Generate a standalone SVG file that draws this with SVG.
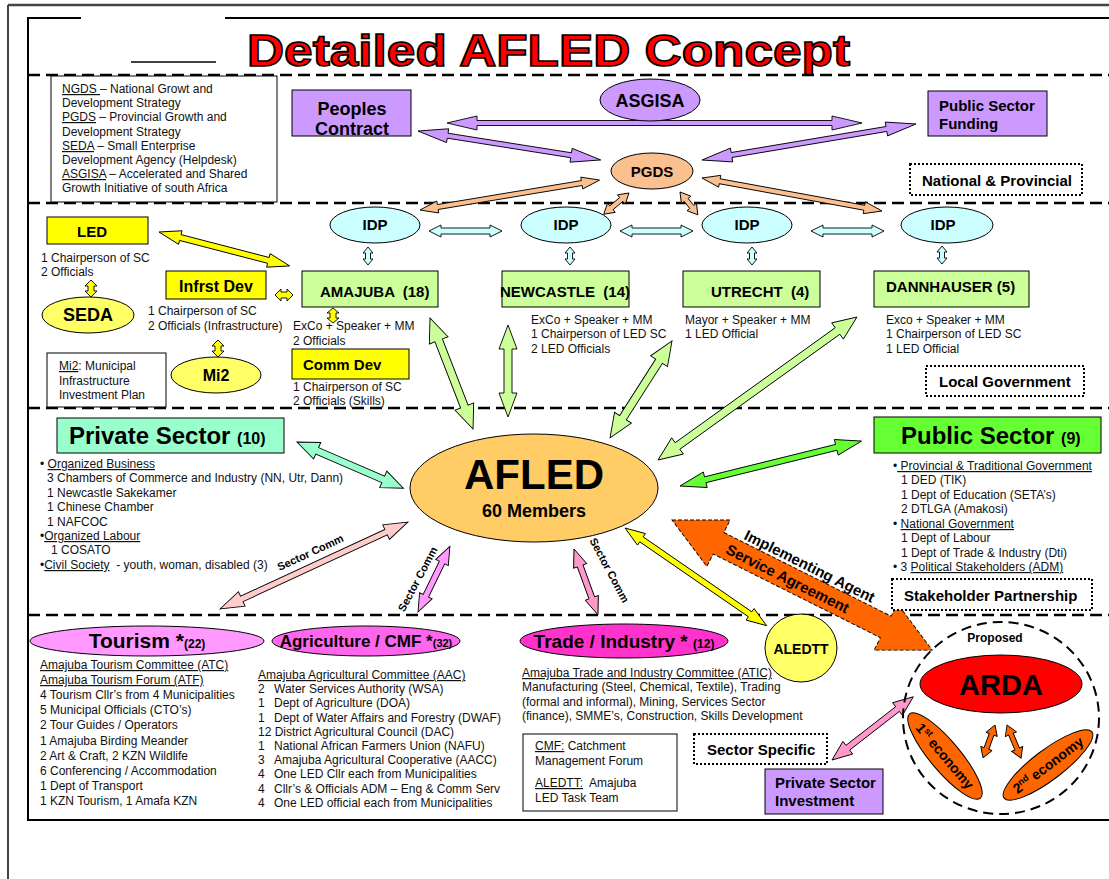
<svg xmlns="http://www.w3.org/2000/svg" width="1109" height="879" viewBox="0 0 1109 879">
<style>
text{font-family:"Liberation Sans",Arial,Helvetica,sans-serif}
.t{font-size:12px;fill:#111}
.b{font-weight:bold;fill:#000}
.u{text-decoration:underline}
.ol{stroke:#000;stroke-width:1}
.sec{fill:none;stroke:#000;stroke-width:2.5;stroke-dasharray:12 6}
.dot{fill:#fff;stroke:#000;stroke-width:2;stroke-dasharray:2 2}
.lav{fill:#cc99ff}
.pch{fill:#fac08f}
.cyn{fill:#ccffff}
.lgr{fill:#ccff99}
.yel{fill:#ffff00}
.pyl{fill:#ffff66}
.arr path{stroke:#000;stroke-width:0.9;stroke-linejoin:miter}
</style>

<!-- page frame -->
<line x1="8" y1="5" x2="1109" y2="5" stroke="#444" stroke-width="2.5"/>
<line x1="8" y1="5" x2="8" y2="879" stroke="#444" stroke-width="2"/>
<polyline points="81,18 28,18 28,820 1109,820" fill="none" stroke="#000" stroke-width="2"/>
<line x1="225" y1="18" x2="1109" y2="18" stroke="#000" stroke-width="2"/>
<line x1="131" y1="62" x2="216" y2="62" stroke="#000" stroke-width="1.5"/>

<!-- title -->
<text x="247" y="66" font-size="44" font-weight="bold" fill="#ff0000" stroke="#000" stroke-width="1.6" textLength="603" lengthAdjust="spacingAndGlyphs">Detailed AFLED Concept</text>

<!-- band separators -->
<line class="sec" x1="28" y1="75" x2="1109" y2="75"/>
<line class="sec" x1="28" y1="203" x2="1109" y2="203"/>
<line class="sec" x1="28" y1="408" x2="1109" y2="408"/>
<line class="sec" x1="28" y1="615" x2="1109" y2="615"/>

<!-- connectors -->
<g id="connectors" class="arr">
  <!-- national / provincial -->
  <path class="lav" transform="translate(447 123)" d="M0,0 L30,-7 L30,-2.5 L385,-2.5 L385,-7 L415,0 L385,7 L385,2.5 L30,2.5 L30,7 Z"/>
  <path class="lav" transform="translate(418 131) rotate(9)" d="M0,0 L30,-7 L30,-2.5 L155,-2.5 L155,-7 L185,0 L155,7 L155,2.5 L30,2.5 L30,7 Z"/>
  <path class="lav" transform="translate(702 160) rotate(-9.55)" d="M0,0 L30,-7 L30,-2.5 L187,-2.5 L187,-7 L217,0 L187,7 L187,2.5 L30,2.5 L30,7 Z"/>
  <path class="pch" transform="translate(420 210) rotate(-9.46)" d="M0,0 L18,-6 L18,-2.5 L164,-2.5 L164,-6 L182,0 L164,6 L164,2.5 L18,2.5 L18,6 Z"/>
  <path class="pch" transform="translate(629 193) rotate(140)" d="M0,0 L10,-6 L10,-2.5 L23,-2.5 L23,-6 L33,0 L23,6 L23,2.5 L10,2.5 L10,6 Z"/>
  <path class="pch" transform="translate(680 192) rotate(52)" d="M0,0 L10,-6 L10,-2.5 L19,-2.5 L19,-6 L29,0 L19,6 L19,2.5 L10,2.5 L10,6 Z"/>
  <path class="pch" transform="translate(702 178) rotate(10.39)" d="M0,0 L18,-6 L18,-2.5 L165,-2.5 L165,-6 L183,0 L165,6 L165,2.5 L18,2.5 L18,6 Z"/>
  <!-- IDP links -->
  <path class="cyn" transform="translate(429 231)" d="M0,0 L12,-6 L12,-3 L61,-3 L61,-6 L73,0 L61,6 L61,3 L12,3 L12,6 Z"/>
  <path class="cyn" transform="translate(620 231)" d="M0,0 L12,-6 L12,-3 L61,-3 L61,-6 L73,0 L61,6 L61,3 L12,3 L12,6 Z"/>
  <path class="cyn" transform="translate(811 231)" d="M0,0 L12,-6 L12,-3 L61,-3 L61,-6 L73,0 L61,6 L61,3 L12,3 L12,6 Z"/>
  <path class="cyn" transform="translate(368 247) rotate(90)" d="M0,0 L6,-5 L6,-2.5 L12,-2.5 L12,-5 L18,0 L12,5 L12,2.5 L6,2.5 L6,5 Z"/>
  <path class="cyn" transform="translate(570 247) rotate(90)" d="M0,0 L6,-5 L6,-2.5 L12,-2.5 L12,-5 L18,0 L12,5 L12,2.5 L6,2.5 L6,5 Z"/>
  <path class="cyn" transform="translate(752 247) rotate(90)" d="M0,0 L6,-5 L6,-2.5 L12,-2.5 L12,-5 L18,0 L12,5 L12,2.5 L6,2.5 L6,5 Z"/>
  <path class="cyn" transform="translate(942 246) rotate(90)" d="M0,0 L6,-5 L6,-2.5 L12,-2.5 L12,-5 L18,0 L12,5 L12,2.5 L6,2.5 L6,5 Z"/>
  <!-- Amajuba committees -->
  <path class="yel" transform="translate(159 232) rotate(14.55)" d="M0,0 L22,-7 L22,-3 L113,-3 L113,-7 L135,0 L113,7 L113,3 L22,3 L22,7 Z"/>
  <path class="yel" transform="translate(91 280) rotate(90)" d="M0,0 L6,-6 L6,-3 L11,-3 L11,-6 L17,0 L11,6 L11,3 L6,3 L6,6 Z"/>
  <path class="yel" transform="translate(275 295)" d="M0,0 L6,-6 L6,-3 L12,-3 L12,-6 L18,0 L12,6 L12,3 L6,3 L6,6 Z"/>
  <path class="yel" transform="translate(218 340) rotate(90)" d="M0,0 L6,-6 L6,-3 L11,-3 L11,-6 L17,0 L11,6 L11,3 L6,3 L6,6 Z"/>
  <path class="yel" transform="translate(333 308) rotate(90)" d="M0,0 L5,-6 L5,-3 L10,-3 L10,-6 L15,0 L10,6 L10,3 L5,3 L5,6 Z"/>
  <!-- municipalities to AFLED -->
  <path class="lgr" transform="translate(430 318) rotate(68.8)" d="M0,0 L24,-10 L24,-4 L95,-4 L95,-10 L119,0 L95,10 L95,4 L24,4 L24,10 Z"/>
  <path class="lgr" transform="translate(508 325) rotate(90)" d="M0,0 L24,-9 L24,-4 L68,-4 L68,-9 L92,0 L68,9 L68,4 L24,4 L24,9 Z"/>
  <path class="lgr" transform="translate(672 341) rotate(122.6)" d="M0,0 L24,-10 L24,-4 L91,-4 L91,-10 L115,0 L91,10 L91,4 L24,4 L24,10 Z"/>
  <path class="lgr" transform="translate(857 317) rotate(144.3)" d="M0,0 L24,-10 L24,-4 L221,-4 L221,-10 L245,0 L221,10 L221,4 L24,4 L24,10 Z"/>
  <!-- sectors to AFLED -->
  <path fill="#66ff33" transform="translate(680 486) rotate(-13.9)" d="M0,0 L26,-8 L26,-3 L161,-3 L161,-8 L187,0 L161,8 L161,3 L26,3 L26,8 Z"/>
  <path fill="#99ffcc" transform="translate(297 442) rotate(23.46)" d="M0,0 L22,-9 L22,-3.5 L94,-3.5 L94,-9 L116,0 L94,9 L94,3.5 L22,3.5 L22,9 Z"/>
  <path fill="#ffcccc" transform="translate(220 609) rotate(-24.83)" d="M0,0 L24,-8 L24,-3 L183,-3 L183,-8 L207,0 L183,8 L183,3 L24,3 L24,8 Z"/>
  <path fill="#ff99ff" transform="translate(418 612) rotate(-64.1)" d="M0,0 L18,-7 L18,-3 L55,-3 L55,-7 L73,0 L55,7 L55,3 L18,3 L18,7 Z"/>
  <path fill="#ff99cc" transform="translate(574 549) rotate(70)" d="M0,0 L18,-7 L18,-3 L52,-3 L52,-7 L70,0 L52,7 L52,3 L18,3 L18,7 Z"/>
  <path class="yel" transform="translate(625 528) rotate(34.6)" d="M0,0 L20,-7 L20,-3 L152,-3 L152,-7 L172,0 L152,7 L152,3 L20,3 L20,7 Z"/>
  <path fill="#ff99cc" transform="translate(832 760) rotate(-37.87)" d="M0,0 L20,-8 L20,-3 L83,-3 L83,-8 L103,0 L83,8 L83,3 L20,3 L20,8 Z"/>
  <!-- economy links -->
  <path fill="#ff6600" transform="translate(995 725) rotate(110)" d="M0,0 L10,-6 L10,-2.5 L25,-2.5 L25,-6 L35,0 L25,6 L25,2.5 L10,2.5 L10,6 Z"/>
  <path fill="#ff6600" transform="translate(1007 725) rotate(67)" d="M0,0 L10,-6 L10,-2.5 L26,-2.5 L26,-6 L36,0 L26,6 L26,2.5 L10,2.5 L10,6 Z"/>
  <!-- ARDA service agreement -->
  <g transform="translate(672 520) rotate(26.57)">
    <path fill="#ff6600" stroke-dasharray="4 2" d="M0,0 L52,-26 L52,-12 L239,-12 L239,-26 L291,0 L239,26 L239,12 L52,12 L52,26 Z"/>
    <text x="72" y="-15" font-size="15" class="b">Implementing Agent</text>
    <text x="62" y="6" font-size="15" class="b">Service Agreement</text>
  </g>
  <text class="b" font-size="11" transform="translate(312 556) rotate(-24.8)" text-anchor="middle">Sector Comm</text>
  <text class="b" font-size="11" transform="translate(421 581) rotate(-62)" text-anchor="middle">Sector Comm</text>
  <text class="b" font-size="11" transform="translate(606 572) rotate(62)" text-anchor="middle">Sector Comm</text>
</g>

<!-- national and provincial -->
<g id="legend">
  <rect x="51" y="76" width="226" height="126" fill="#fff" stroke="#000" stroke-width="1"/>
  <text class="t" x="62" y="93"><tspan class="u">NGDS </tspan>– National Growt and</text>
  <text class="t" x="62" y="107">Development Strategy</text>
  <text class="t" x="62" y="121"><tspan class="u">PGDS</tspan> – Provincial Growth and</text>
  <text class="t" x="62" y="136">Development Strategy</text>
  <text class="t" x="62" y="150"><tspan class="u">SEDA</tspan> – Small Enterprise</text>
  <text class="t" x="62" y="164">Development Agency (Helpdesk)</text>
  <text class="t" x="62" y="178"><tspan class="u">ASGISA</tspan> – Accelerated and Shared</text>
  <text class="t" x="62" y="192">Growth Initiative of south Africa</text>
</g>
<g id="peoples-contract">
  <rect class="lav ol" x="292" y="90" width="119" height="46"/>
  <text class="b" font-size="18" x="352" y="115" text-anchor="middle">Peoples</text>
  <text class="b" font-size="18" x="352" y="135" text-anchor="middle">Contract</text>
</g>
<g id="asgisa">
  <ellipse class="lav ol" cx="650" cy="100" rx="50" ry="21"/>
  <text class="b" font-size="18" x="650" y="107" text-anchor="middle">ASGISA</text>
</g>
<g id="public-sector-funding">
  <rect class="lav ol" x="928" y="91" width="119" height="45"/>
  <text class="b" font-size="15" x="939" y="111">Public Sector</text>
  <text class="b" font-size="15" x="939" y="129">Funding</text>
</g>
<g id="pgds">
  <ellipse class="pch ol" cx="652" cy="171" rx="41" ry="18"/>
  <text class="b" font-size="15" x="652" y="177" text-anchor="middle">PGDS</text>
</g>
<g id="label-national">
  <rect class="dot" x="910" y="164" width="172" height="31"/>
  <text class="b" font-size="15" x="922" y="186">National &amp; Provincial</text>
</g>

<!-- local government -->
<g id="idp-amajuba">
  <ellipse class="cyn ol" cx="375" cy="225" rx="45" ry="18"/>
  <text class="b" font-size="15" x="375" y="230" text-anchor="middle">IDP</text>
</g>
<g id="idp-newcastle">
  <ellipse class="cyn ol" cx="566" cy="225" rx="45" ry="18"/>
  <text class="b" font-size="15" x="566" y="230" text-anchor="middle">IDP</text>
</g>
<g id="idp-utrecht">
  <ellipse class="cyn ol" cx="747" cy="225" rx="45" ry="18"/>
  <text class="b" font-size="15" x="747" y="230" text-anchor="middle">IDP</text>
</g>
<g id="idp-dannhauser">
  <ellipse class="cyn ol" cx="947" cy="225" rx="46" ry="18"/>
  <text class="b" font-size="15" x="943" y="230" text-anchor="middle">IDP</text>
</g>
<g id="amajuba">
  <rect class="lgr ol" x="302" y="271" width="136" height="36"/>
  <text class="b" font-size="15" x="320" y="297" xml:space="preserve">AMAJUBA  (18)</text>
  <text class="t" x="293" y="330">ExCo + Speaker + MM</text>
  <text class="t" x="293" y="345">2 Officials</text>
</g>
<g id="newcastle">
  <rect class="lgr ol" x="502" y="271" width="127" height="36"/>
  <text class="b" font-size="15" x="500" y="297" xml:space="preserve">NEWCASTLE  (14)</text>
  <text class="t" x="531" y="324">ExCo + Speaker + MM</text>
  <text class="t" x="531" y="338">1 Chairperson of LED SC</text>
  <text class="t" x="531" y="353">2 LED Officials</text>
</g>
<g id="utrecht">
  <rect class="lgr ol" x="683" y="271" width="137" height="36"/>
  <text class="b" font-size="15" x="711" y="297" xml:space="preserve">UTRECHT  (4)</text>
  <text class="t" x="685" y="324">Mayor + Speaker + MM</text>
  <text class="t" x="685" y="338">1 LED Official</text>
</g>
<g id="dannhauser">
  <rect class="lgr ol" x="874" y="271" width="155" height="36"/>
  <text class="b" font-size="15" x="886" y="292">DANNHAUSER (5)</text>
  <text class="t" x="886" y="324">Exco + Speaker + MM</text>
  <text class="t" x="886" y="338">1 Chairperson of LED SC</text>
  <text class="t" x="886" y="353">1 LED Official</text>
</g>
<g id="led">
  <rect class="yel ol" x="47" y="217" width="101" height="27"/>
  <text class="b" font-size="15" x="92" y="237" text-anchor="middle">LED</text>
  <text class="t" x="41" y="262">1 Chairperson of SC</text>
  <text class="t" x="41" y="276">2 Officials</text>
</g>
<g id="seda">
  <ellipse class="pyl ol" cx="88" cy="315" rx="46" ry="18"/>
  <text class="b" font-size="18" x="88" y="321" text-anchor="middle">SEDA</text>
</g>
<g id="infrst-dev">
  <rect class="yel ol" x="166" y="271" width="100" height="28"/>
  <text class="b" font-size="16" x="216" y="292" text-anchor="middle">Infrst Dev</text>
  <text class="t" x="148" y="315">1 Chairperson of SC</text>
  <text class="t" x="148" y="330">2 Officials (Infrastructure)</text>
</g>
<g id="mi2">
  <ellipse class="pyl ol" cx="216" cy="375" rx="45" ry="18"/>
  <text class="b" font-size="16" x="216" y="381" text-anchor="middle">Mi2</text>
</g>
<g id="mi2-note">
  <rect x="47" y="353" width="119" height="54" fill="#fff" stroke="#000" stroke-width="1"/>
  <text class="t" x="59" y="370"><tspan class="u">Mi2</tspan>: Municipal</text>
  <text class="t" x="59" y="385">Infrastructure</text>
  <text class="t" x="59" y="399">Investment Plan</text>
</g>
<g id="comm-dev">
  <rect class="yel ol" x="292" y="349" width="117" height="30"/>
  <text class="b" font-size="15" x="303" y="370">Comm Dev</text>
  <text class="t" x="293" y="391">1 Chairperson of SC</text>
  <text class="t" x="293" y="405">2 Officials (Skills)</text>
</g>
<g id="label-local">
  <rect class="dot" x="926" y="366" width="158" height="30"/>
  <text class="b" font-size="15" x="939" y="387">Local Government</text>
</g>

<!-- stakeholder partnership -->
<g id="afled">
  <ellipse cx="534" cy="488" rx="124" ry="54" fill="#ffcc66" stroke="#000" stroke-width="1"/>
  <text class="b" font-size="42" x="534" y="489" text-anchor="middle">AFLED</text>
  <text class="b" font-size="18" x="534" y="517" text-anchor="middle">60 Members</text>
</g>
<g id="private-sector">
  <rect x="57" y="418" width="227" height="35" fill="#99ffcc" stroke="#000" stroke-width="1"/>
  <text class="b" font-size="24" x="69" y="444">Private Sector <tspan font-size="16">(10)</tspan></text>
  <text class="t" x="40" y="468">• <tspan class="u">Organized Business</tspan></text>
  <text class="t" x="47" y="482">3 Chambers of Commerce and Industry (NN, Utr, Dann)</text>
  <text class="t" x="47" y="497">1 Newcastle Sakekamer</text>
  <text class="t" x="47" y="511">1 Chinese Chamber</text>
  <text class="t" x="47" y="526">1 NAFCOC</text>
  <text class="t" x="40" y="540">•<tspan class="u">Organized Labour</tspan></text>
  <text class="t" x="51" y="554">1 COSATO</text>
  <text class="t" x="40" y="569" xml:space="preserve">•<tspan class="u">Civil Society</tspan>  - youth, woman, disabled (3)</text>
</g>
<g id="public-sector">
  <rect x="874" y="417" width="227" height="36" fill="#66ff33" stroke="#000" stroke-width="1"/>
  <text class="b" font-size="24" x="901" y="444">Public Sector <tspan font-size="16">(9)</tspan></text>
  <text class="t" x="893" y="470">•<tspan class="u"> Provincial &amp; Traditional Government</tspan></text>
  <text class="t" x="901" y="484">1 DED (TIK)</text>
  <text class="t" x="901" y="499">1 Dept of Education (SETA’s)</text>
  <text class="t" x="901" y="513">2 DTLGA (Amakosi)</text>
  <text class="t" x="893" y="528">• <tspan class="u">National Government</tspan></text>
  <text class="t" x="901" y="542">1 Dept of Labour</text>
  <text class="t" x="901" y="557">1 Dept of Trade &amp; Industry (Dti)</text>
  <text class="t" x="893" y="571">• 3 <tspan class="u">Political Stakeholders (ADM)</tspan></text>
</g>
<g id="label-stakeholder">
  <rect class="dot" x="892" y="579" width="200" height="31"/>
  <text class="b" font-size="15" x="904" y="601">Stakeholder Partnership</text>
</g>

<!-- sector specific -->
<g id="tourism">
  <ellipse cx="147" cy="641" rx="117" ry="15" fill="#ff99ff" stroke="#000" stroke-width="1"/>
  <text class="b" font-size="21" x="147" y="648" text-anchor="middle">Tourism *<tspan font-size="12">(22)</tspan></text>
  <text class="t" x="40" y="669"><tspan class="u">Amajuba Tourism Committee (ATC)</tspan></text>
  <text class="t" x="40" y="684"><tspan class="u">Amajuba Tourism Forum (ATF)</tspan></text>
  <text class="t" x="40" y="699">4 Tourism Cllr’s from 4 Municipalities</text>
  <text class="t" x="40" y="714">5 Municipal Officials (CTO’s)</text>
  <text class="t" x="40" y="729">2 Tour Guides / Operators</text>
  <text class="t" x="40" y="745">1 Amajuba Birding Meander</text>
  <text class="t" x="40" y="760">2 Art &amp; Craft, 2 KZN Wildlife</text>
  <text class="t" x="40" y="775">6 Conferencing / Accommodation</text>
  <text class="t" x="40" y="790">1 Dept of Transport</text>
  <text class="t" x="40" y="805">1 KZN Tourism, 1 Amafa KZN</text>
</g>
<g id="agriculture">
  <ellipse cx="366" cy="641" rx="94" ry="15" fill="#ff66ee" stroke="#000" stroke-width="1"/>
  <text class="b" font-size="17" x="366" y="647" text-anchor="middle">Agriculture / CMF *<tspan font-size="11">(32)</tspan></text>
  <text class="t" x="258" y="679"><tspan class="u">Amajuba Agricultural Committee (AAC)</tspan></text>
  <text class="t" y="693"><tspan x="258">2</tspan><tspan x="274">Water Services Authority (WSA)</tspan></text>
  <text class="t" y="707"><tspan x="258">1</tspan><tspan x="274">Dept of Agriculture (DOA)</tspan></text>
  <text class="t" y="722"><tspan x="258">1</tspan><tspan x="274">Dept of Water Affairs and Forestry (DWAF)</tspan></text>
  <text class="t" x="258" y="736">12 District Agricultural Council (DAC)</text>
  <text class="t" y="750"><tspan x="258">1</tspan><tspan x="274">National African Farmers Union (NAFU)</tspan></text>
  <text class="t" y="764"><tspan x="258">3</tspan><tspan x="274">Amajuba Agricultural Cooperative (AACC)</tspan></text>
  <text class="t" y="778"><tspan x="258">4</tspan><tspan x="274">One LED Cllr each from Municipalities</tspan></text>
  <text class="t" y="793"><tspan x="258">4</tspan><tspan x="274">Cllr’s &amp; Officials ADM – Eng &amp; Comm Serv</tspan></text>
  <text class="t" y="807"><tspan x="258">4</tspan><tspan x="274">One LED official each from Municipalities</tspan></text>
</g>
<g id="trade-industry">
  <ellipse cx="624" cy="641" rx="104" ry="17" fill="#ff33cc" stroke="#000" stroke-width="1"/>
  <text class="b" font-size="19" x="624" y="648" text-anchor="middle">Trade / Industry * <tspan font-size="12">(12)</tspan></text>
  <text class="t" x="522" y="677"><tspan class="u">Amajuba Trade and Industry Committee (ATIC)</tspan></text>
  <text class="t" x="522" y="691">Manufacturing (Steel, Chemical, Textile), Trading</text>
  <text class="t" x="522" y="706">(formal and informal), Mining, Services Sector</text>
  <text class="t" x="522" y="720">(finance), SMME’s, Construction, Skills Development</text>
</g>
<g id="abbreviations">
  <rect x="523" y="734" width="154" height="77" fill="#fff" stroke="#000" stroke-width="1"/>
  <text class="t" x="535" y="750"><tspan class="u">CMF:</tspan> Catchment</text>
  <text class="t" x="535" y="765">Management Forum</text>
  <text class="t" x="535" y="787" xml:space="preserve"><tspan class="u">ALEDTT:</tspan>  Amajuba</text>
  <text class="t" x="535" y="802">LED Task Team</text>
</g>
<g id="aledtt">
  <ellipse cx="801" cy="648" rx="36" ry="34" fill="#ffff66" stroke="#000" stroke-width="1"/>
  <text class="b" font-size="14" x="801" y="654" text-anchor="middle">ALEDTT</text>
</g>
<g id="label-sector">
  <rect class="dot" x="694" y="734" width="133" height="30"/>
  <text class="b" font-size="15" x="707" y="755">Sector Specific</text>
</g>
<g id="private-sector-investment">
  <rect class="lav ol" x="765" y="769" width="118" height="45"/>
  <text class="b" font-size="15" x="775" y="788">Private Sector</text>
  <text class="b" font-size="15" x="775" y="806">Investment</text>
</g>
<g id="arda">
  <ellipse cx="1001" cy="718" rx="98" ry="96" fill="none" stroke="#000" stroke-width="2" stroke-dasharray="10 6"/>
  <text class="b" font-size="12" x="995" y="642" text-anchor="middle">Proposed</text>
  <ellipse cx="1001" cy="684" rx="81" ry="29" fill="#ff0000" stroke="#000" stroke-width="1"/>
  <text class="b" font-size="29" x="1001" y="695" text-anchor="middle">ARDA</text>
</g>
<g id="first-economy" transform="translate(945 756) rotate(50)">
  <ellipse rx="55" ry="15" fill="#ff6600" stroke="#000" stroke-width="1"/>
  <text class="b" font-size="14" y="5" text-anchor="middle">1<tspan font-size="9" dy="-5">st</tspan><tspan dy="5"> economy</tspan></text>
</g>
<g id="second-economy" transform="translate(1048 765) rotate(-37)">
  <ellipse rx="55" ry="15" fill="#ff6600" stroke="#000" stroke-width="1"/>
  <text class="b" font-size="14" y="5" text-anchor="middle">2<tspan font-size="9" dy="-5">nd</tspan><tspan dy="5"> economy</tspan></text>
</g>
</svg>
